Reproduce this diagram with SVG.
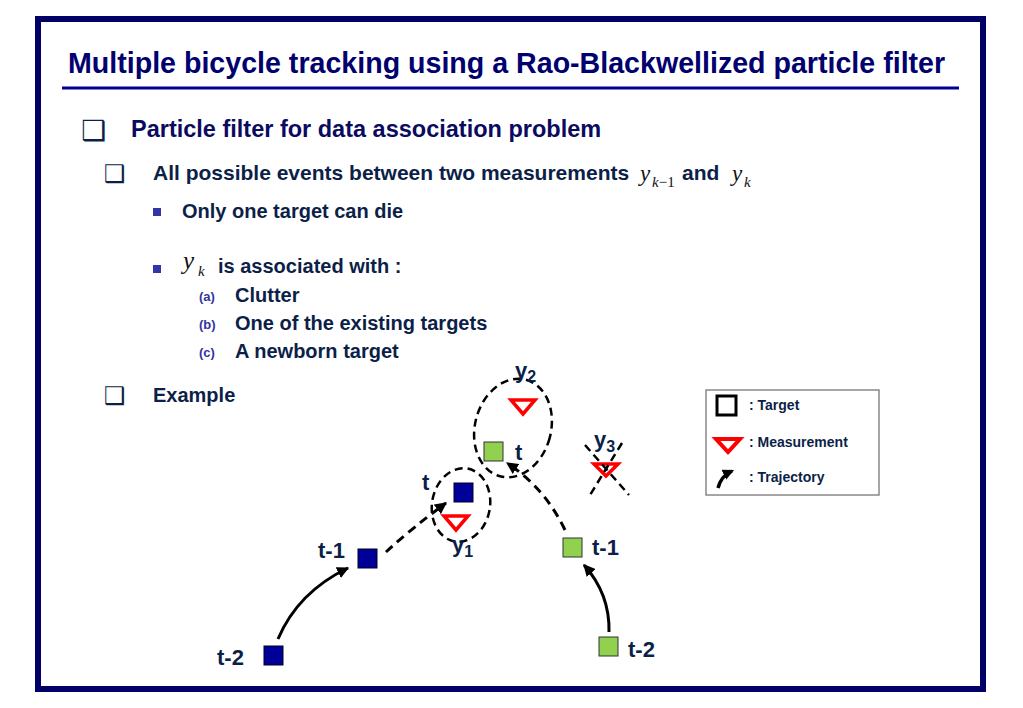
<svg xmlns="http://www.w3.org/2000/svg" width="1023" height="708" viewBox="0 0 1023 708">
<defs>
<style>
.b{font-family:"Liberation Sans",Arial,sans-serif;font-weight:bold}
.title{font-size:28.6px;fill:#00006e}
.l1{font-size:23.5px;fill:#0a0a60}
.l2{font-size:21px;fill:#0c1f48}
.l3{font-size:20px;fill:#0c1f48}
.abc{font-size:13px;fill:#3333a0}
.cb{font-family:"DejaVu Sans",sans-serif;fill:#0c1f48}
.m{font-family:"Liberation Serif","Times New Roman",serif;fill:#111}
.lab{font-family:"Liberation Sans",Arial,sans-serif;font-weight:bold;font-size:22px;fill:#0c1f48}
.sub{font-size:16px}
.leg{font-family:"Liberation Sans",Arial,sans-serif;font-weight:bold;font-size:14px;fill:#0c1f48}
.blue{fill:#000099;stroke:#00002a;stroke-width:1}
.green{fill:#92d050;stroke:#333;stroke-width:1}
.tri{fill:#fff;stroke:#ff0000;stroke-width:3.5;stroke-linejoin:miter}
.ell{fill:none;stroke:#000;stroke-width:2.5;stroke-dasharray:8 5}
.dash{fill:none;stroke:#000;stroke-width:3;stroke-dasharray:9 6}
.solid{fill:none;stroke:#000;stroke-width:3}
</style>
<marker id="ah" viewBox="0 0 10 10" refX="9" refY="5" markerWidth="4" markerHeight="4" orient="auto" markerUnits="strokeWidth">
<path d="M0,0 L10,5 L0,10 z" fill="#000"/>
</marker>
<marker id="ahl" viewBox="0 0 10 10" refX="8" refY="5" markerWidth="3.2" markerHeight="3.2" orient="auto" markerUnits="strokeWidth">
<path d="M0,0 L10,5 L0,10 z" fill="#000"/>
</marker>
</defs>
<rect width="1023" height="708" fill="#fff"/>
<rect x="38" y="19" width="945" height="670" fill="none" stroke="#000066" stroke-width="6"/>

<g id="title">
<text class="b title" x="68" y="73">Multiple bicycle tracking using a Rao-Blackwellized particle filter</text>
<line x1="62" y1="88" x2="959" y2="88" stroke="#000099" stroke-width="3"/>
</g>

<g id="bullets">
<text class="cb" x="81" y="140" font-size="28">❑</text>
<text class="b l1" x="131" y="137">Particle filter for data association problem</text>
<text class="cb" x="104" y="182" font-size="24">❑</text>
<text class="b l2" x="153" y="180">All possible events between two measurements</text>
<text class="m" x="640" y="181" font-size="23" font-style="italic">y</text>
<text class="m" x="652" y="187" font-size="15"><tspan font-style="italic">k</tspan>−1</text>
<text class="b l2" x="682" y="180">and</text>
<text class="m" x="732" y="181" font-size="23" font-style="italic">y</text>
<text class="m" x="744" y="187" font-size="15" font-style="italic">k</text>
<rect x="153" y="208" width="8" height="8" fill="#3333aa"/>
<text class="b l3" x="182" y="218">Only one target can die</text>
<rect x="153" y="265" width="8" height="8" fill="#3333aa"/>
<text class="m" x="183" y="269" font-size="25" font-style="italic">y</text>
<text class="m" x="198" y="276" font-size="15" font-style="italic">k</text>
<text class="b l3" x="218" y="273">is associated with :</text>
<text class="b abc" x="199" y="301">(a)</text>
<text class="b l3" x="235" y="302">Clutter</text>
<text class="b abc" x="199" y="329">(b)</text>
<text class="b l3" x="235" y="330">One of the existing targets</text>
<text class="b abc" x="199" y="357">(c)</text>
<text class="b l3" x="235" y="358">A newborn target</text>
<text class="cb" x="104" y="404" font-size="24">❑</text>
<text class="b l3" x="153" y="402">Example</text>
</g>

<g id="connectors">
<path class="solid" d="M278,639 Q298,592 348,568" marker-end="url(#ah)"/>
<path class="dash" d="M386,552 Q412,528 446,503" marker-end="url(#ah)"/>
<path class="dash" d="M565,530 Q545,488 507,463" marker-end="url(#ah)"/>
<path class="solid" d="M609,632 Q610,594 584,565" marker-end="url(#ah)"/>
</g>

<g id="ellipse-y1">
<ellipse class="ell" cx="461" cy="505" rx="29" ry="37" transform="rotate(10 461 505)"/>
<polygon class="tri" points="444,516 468,516 456,530"/>
<text class="lab" x="452" y="552">y<tspan class="sub" dy="5">1</tspan></text>
</g>

<g id="ellipse-y2">
<ellipse class="ell" cx="513" cy="428" rx="38" ry="50" transform="rotate(15 513 428)"/>
<polygon class="tri" points="511,400 535,400 523,414"/>
<text class="lab" x="515" y="378">y<tspan class="sub" dy="4">2</tspan></text>
</g>

<g id="y3">
<polygon class="tri" points="594,464 618,464 606,476"/>
<line class="ell" x1="585" y1="445" x2="629" y2="495"/>
<line class="ell" x1="622" y1="443" x2="590" y2="495"/>
<text class="lab" x="594" y="447">y<tspan class="sub" dy="5">3</tspan></text>
</g>

<g id="blue-t2">
<rect class="blue" x="264" y="646" width="19" height="19"/>
<text class="lab" x="217" y="665">t-2</text>
</g>
<g id="blue-t1">
<rect class="blue" x="358" y="549" width="19" height="19"/>
<text class="lab" x="318" y="558">t-1</text>
</g>
<g id="blue-t">
<rect class="blue" x="454" y="483" width="19" height="19"/>
<text class="lab" x="422" y="490">t</text>
</g>
<g id="green-t">
<rect class="green" x="484" y="442" width="19" height="19"/>
<text class="lab" x="515" y="460">t</text>
</g>
<g id="green-t1">
<rect class="green" x="563" y="538" width="19" height="19"/>
<text class="lab" x="592" y="555">t-1</text>
</g>
<g id="green-t2">
<rect class="green" x="599" y="637" width="19" height="19"/>
<text class="lab" x="628" y="657">t-2</text>
</g>

<g id="legend">
<rect x="706" y="390" width="173" height="105" fill="#fff" stroke="#888" stroke-width="1.5"/>
<rect x="717" y="396" width="19" height="19" fill="#fff" stroke="#000" stroke-width="3"/>
<text class="leg" x="749" y="410">: Target</text>
<polygon points="716,439 740,439 728,452" fill="#fff" stroke="#ff0000" stroke-width="4"/>
<text class="leg" x="749" y="447">: Measurement</text>
<path d="M718,488 Q721,476 732,471" fill="none" stroke="#000" stroke-width="3.5" marker-end="url(#ahl)"/>
<text class="leg" x="749" y="482">: Trajectory</text>
</g>
</svg>
